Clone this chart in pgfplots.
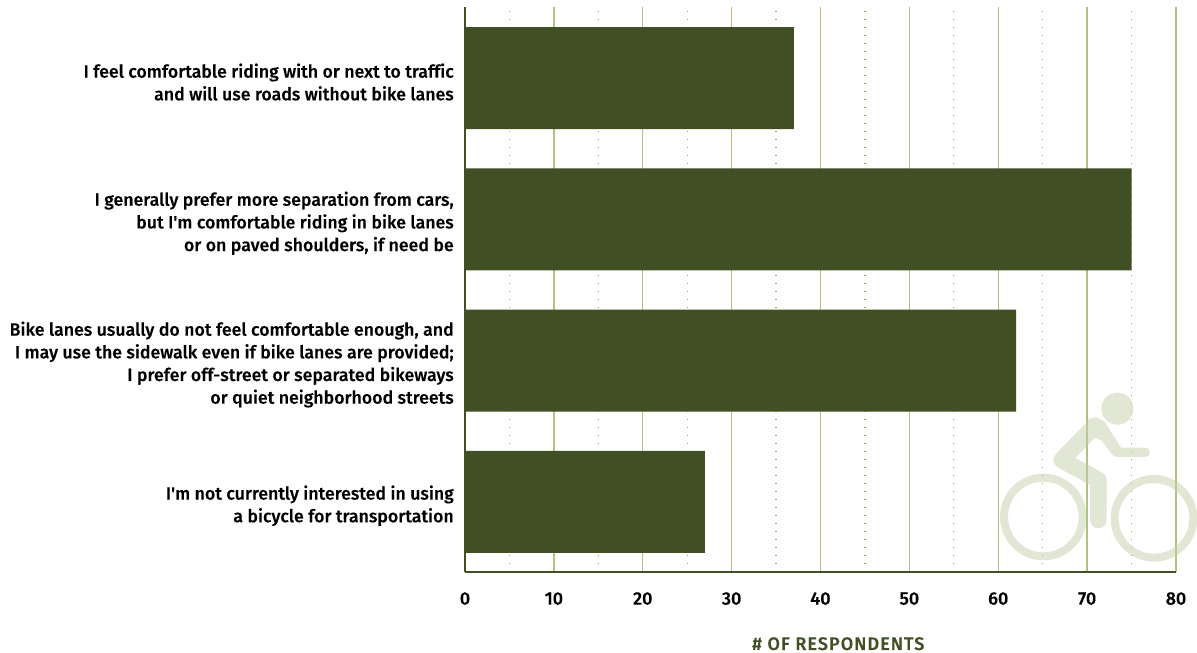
\documentclass[border=0pt]{standalone}
\usepackage{fontspec}
\setmainfont{Fira Sans}[BoldFont={Fira Sans Medium},BoldFeatures={FakeBold=0.25},Ligatures={NoCommon,TeXOff}]
\usepackage{pgfplots}
\pgfplotsset{compat=1.18}
\definecolor{olive}{HTML}{404F24}
\definecolor{gridg}{HTML}{AEC37E}
\definecolor{dotg}{HTML}{8FA548}
\definecolor{bikeg}{HTML}{C6CDAA}
\begin{document}
\begin{tikzpicture}[x=1pt,y=1pt]
\path[use as bounding box] (0,0) rectangle (897.75pt,489.75pt);
\begin{axis}[
  at={(348.75pt,60.75pt)},anchor=origin,
  scale only axis,width=533.25pt,height=423.75pt,
  xmin=0,xmax=80,ymin=0,ymax=4,
  axis lines=left,
  axis line style={-,draw=olive,line width=1.9pt},
  xtick={0,10,...,80},
  minor xtick={5,15,...,75},
  ytick={0.5,1.5,2.5,3.5},
  yticklabels={{I'm not currently interested in using\\a bicycle for transportation},
    {Bike lanes usually do not feel comfortable enough, and\\I may use the sidewalk even if bike lanes are provided;\\I prefer off-street or separated bikeways\\or quiet neighborhood streets},
    {I generally prefer more separation from cars,\\but I'm comfortable riding in bike lanes\\or on paved shoulders, if need be},
    {I feel comfortable riding with or next to traffic\\and will use roads without bike lanes}},
  y tick label style={align=right,font=\fontsize{13.3pt}{17pt}\selectfont\bfseries,inner sep=0pt,xshift=-8.25pt,yshift=-3.3pt},
  x tick label style={font=\fontsize{13.5pt}{16pt}\selectfont\bfseries,inner sep=0pt,yshift=-15pt},
  /pgf/number format/assume math mode=true,
  major tick length=0pt,minor tick length=0pt,
  xmajorgrids,xminorgrids,
  major grid style={draw=gridg,line width=1.1pt},
  minor grid style={draw=dotg,line width=0.9pt,dash pattern=on 0.9pt off 5.1pt},
  xlabel={\# OF RESPONDENTS},
  xlabel style={font=\fontsize{13.6pt}{15pt}\selectfont\bfseries\addfontfeature{LetterSpace=5.5,FakeBold=0.6},text=olive,inner sep=0pt,at={(axis description cs:0.525,0)},anchor=center,yshift=-53.8pt},
  xbar,bar width=76.5pt,
  clip=false,
]
\addplot[fill=olive,draw=none,bar shift=0pt] coordinates {(27,0.497) (62,1.497) (75,2.497) (37,3.497)};
\end{axis}
\begin{scope}[shift={(720pt,212.25pt)},x=0.25pt,y=-0.25pt,opacity=.5,transparency group]
  \fill[bikeg] (472,116) circle[radius=48];
  \draw[bikeg,line width=6pt] (250,441) circle[radius=118];
  \draw[bikeg,line width=6pt] (582,445) circle[radius=118];
  \draw[bikeg,line width=12.5pt,line cap=round,line join=round] (405,167) -- (305,270) -- (415,330) -- (415,450);
  \draw[bikeg,line width=7pt,line cap=round] (470,247) -- (556,247);
  \fill[bikeg] (385,145) -- (432,152) -- (483,233) -- (470,261) -- (455,252) -- (425,212) -- (400,200) -- cycle;
\end{scope}
\end{tikzpicture}
\end{document}
